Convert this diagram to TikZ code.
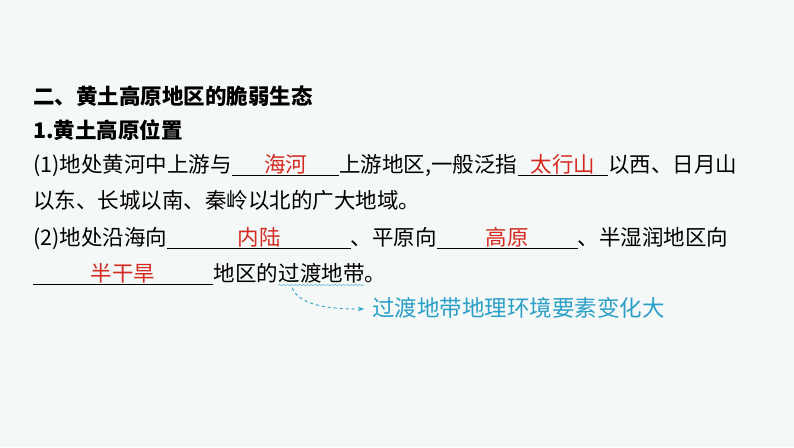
\documentclass[tikz,border=0pt]{standalone}
\usepackage{fontspec}
\setmainfont{Noto Sans CJK SC}
\usetikzlibrary{positioning,decorations.pathmorphing,arrows.meta}
\definecolor{slidebg}{HTML}{F4F8F6}
\definecolor{ansred}{HTML}{D42A22}
\definecolor{noteblue}{HTML}{2A9FC8}
\tikzset{
    txt/.style={inner sep=0pt, anchor=base west, font=\fontsize{21.5}{25}\selectfont},
    blank/.style={txt, text=ansred, minimum width=#1},
    uline/.style={line width=0.7pt, black}
}
\begin{document}
\begin{tikzpicture}[x=1pt,y=1pt]
    \useasboundingbox[fill=slidebg] (0,0) rectangle (794,-447);
    % heading
    \node[txt, font=\fontsize{21.5}{25}\selectfont\bfseries] (title) at (33,-104) {二、黄土高原地区的脆弱生态};
    \node[txt, font=\fontsize{21.5}{25}\selectfont\bfseries] (sub) at (33,-138) {1.黄土高原位置};
    % (1)
    \node[txt] (l3a) at (33,-172) {(1)地处黄河中上游与};
    \node[blank=107pt, right=0pt of l3a.base east, anchor=base west] (b1) {海河};
    \node[txt, right=0pt of b1.base east, anchor=base west] (l3b) {上游地区,一般泛指};
    \node[blank=90pt, right=0pt of l3b.base east, anchor=base west] (b2) {太行山};
    \node[txt, right=0pt of b2.base east, anchor=base west] (l3c) {以西、日月山};
    \node[txt] (l4) at (33,-208) {以东、长城以南、秦岭以北的广大地域。};
    % (2)
    \node[txt] (l5a) at (33,-245) {(2)地处沿海向};
    \node[blank=183pt, right=0pt of l5a.base east, anchor=base west] (b3) {内陆};
    \node[txt, right=0pt of b3.base east, anchor=base west] (l5b) {、平原向};
    \node[blank=140pt, right=0pt of l5b.base east, anchor=base west] (b4) {高原};
    \node[txt, right=0pt of b4.base east, anchor=base west] (l5c) {、半湿润地区向};
    \node[blank=180pt] (b5) at (33,-281) {半干旱};
    \node[txt, right=0pt of b5.base east, anchor=base west] (l6a) {地区的};
    \node[txt, right=0pt of l6a.base east, anchor=base west] (l6b) {过渡地带};
    \node[txt, right=0pt of l6b.base east, anchor=base west] (l6c) {。};
    % blanks
    \foreach \b in {b1,b2,b3,b4,b5} {
        \draw[uline] ([yshift=-3pt]\b.base west) -- ([yshift=-3pt]\b.base east);
    }
    \draw[noteblue!70, line width=0.6pt, decorate, decoration={snake, amplitude=0.8pt, segment length=4pt}]
        ([yshift=-4pt]l6b.base west) -- ([yshift=-4pt]l6b.base east);
    % note
    \node[txt, text=noteblue, font=\fontsize{22.5}{26}\selectfont] (note) at (372,-316) {过渡地带地理环境要素变化大};
    \coordinate (from) at ([xshift=14pt,yshift=-7pt]l6b.base west);
    \draw[noteblue, dashed, line width=0.9pt, -{Stealth[length=6pt]}]
        (from) .. controls +(8,-20) and +(-25,0) .. ([xshift=-8pt,yshift=7pt]note.base west);
\end{tikzpicture}
\end{document}
